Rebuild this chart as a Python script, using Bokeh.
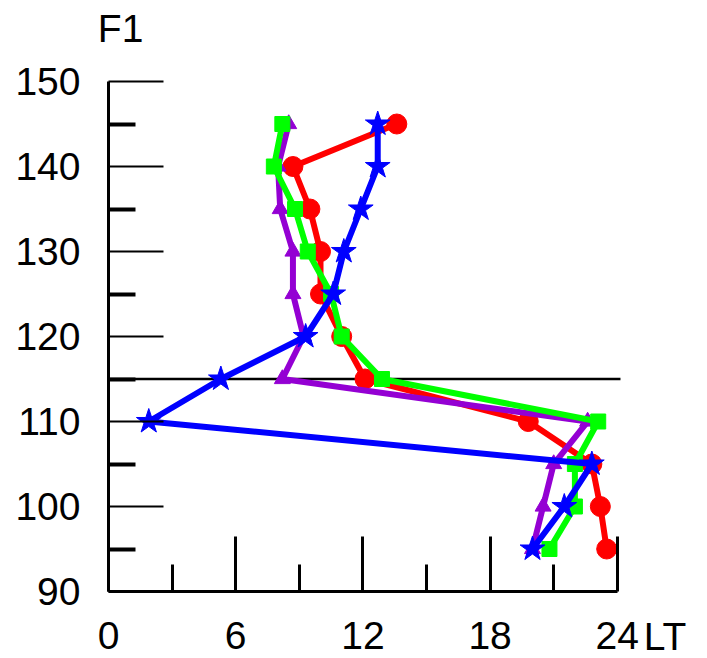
from bokeh.plotting import figure
from bokeh.models import Range1d, FixedTicker, LinearAxis
from bokeh.core.properties import value
from bokeh.embed import file_html
from bokeh.resources import INLINE

# F1 levels (y) and LT values (x) for each series
f1_levels = [95, 100, 105, 110, 115, 120, 125, 130, 135, 140, 145]
lt_red = [23.5, 23.2, 22.8, 19.8, 12.1, 11.0, 10.0, 10.0, 9.5, 8.7, 13.6]
lt_purple = [20.0, 20.5, 21.0, 22.6, 8.2, 9.2, 8.7, 8.7, 8.1, 8.0, 8.5]
lt_green = [20.8, 22.0, 22.0, 23.1, 12.9, 11.0, 10.5, 9.4, 8.8, 7.8, 8.2]
lt_blue = [20.0, 21.5, 22.8, 1.9, 5.3, 9.3, 10.6, 11.1, 11.9, 12.7, 12.7]

x_major = [0, 6, 12, 18, 24]
x_minor = [3, 9, 15, 21]
y_major = [90, 100, 110, 120, 130, 140, 150]
y_minor = [95, 105, 115, 125, 135, 145]
ref_level = 115
x_title = "LT"
y_title = "F1"

FONT = "Liberation Sans"
FS = "39px"

p = figure(width=707, height=658,
           x_range=Range1d(-5.094, 28.255), y_range=Range1d(82.118, 159.53),
           output_backend="svg", toolbar_location=None,
           x_axis_location=None, y_axis_location=None,
           min_border=0)
p.grid.visible = False
p.outline_line_color = None
p.background_fill_color = "white"
p.border_fill_color = "white"

xa = LinearAxis(fixed_location=90)
xa.ticker = FixedTicker(ticks=x_major, minor_ticks=x_minor)
xa.bounds = (0, 24)
xa.axis_line_width = 3
xa.major_tick_in = 55
xa.major_tick_out = 0
xa.minor_tick_in = 27
xa.minor_tick_out = 0
xa.major_tick_line_width = 3
xa.minor_tick_line_width = 3
xa.major_label_text_font = FONT
xa.major_label_text_font_size = FS
xa.major_label_text_color = "black"
xa.major_label_standoff = 30
p.add_layout(xa, "below")

ya = LinearAxis(fixed_location=0)
ya.ticker = FixedTicker(ticks=y_major, minor_ticks=y_minor)
ya.bounds = (90, 150)
ya.axis_line_width = 3
ya.major_tick_in = 55
ya.major_tick_out = 0
ya.minor_tick_in = 27
ya.minor_tick_out = 0
ya.major_tick_line_width = 2
ya.minor_tick_line_width = 4
ya.major_label_text_font = FONT
ya.major_label_text_font_size = FS
ya.major_label_text_color = "black"
ya.major_label_standoff = 28
p.add_layout(ya, "left")

# reference line
p.segment(x0=[0], y0=[ref_level], x1=[24.15], y1=[ref_level],
          line_color="black", line_width=2.5)

series = [
    (lt_red, "#FF0000", "circle", 20),
    (lt_purple, "#9400D3", "triangle", 16),
    (lt_green, "#00FF00", "square", 15),
    (lt_blue, "#0000FF", "star", 26),
]
for xs, col, mk, sz in series:
    p.line(xs, f1_levels, line_color=col, line_width=6)
    p.scatter(xs, f1_levels, marker=mk, size=sz, fill_color=col,
              line_color=col, line_width=1)

p.text(x=[0.57], y=[156.2], text=[y_title], text_font=value(FONT),
       text_font_size=FS, text_align="center", text_baseline="middle",
       text_color="black")
p.text(x=[25.25], y=[84.7], text=[x_title], text_font=value(FONT),
       text_font_size=FS, text_align="left", text_baseline="middle",
       text_color="black")

open("out.html", "w").write(file_html(p, INLINE))
